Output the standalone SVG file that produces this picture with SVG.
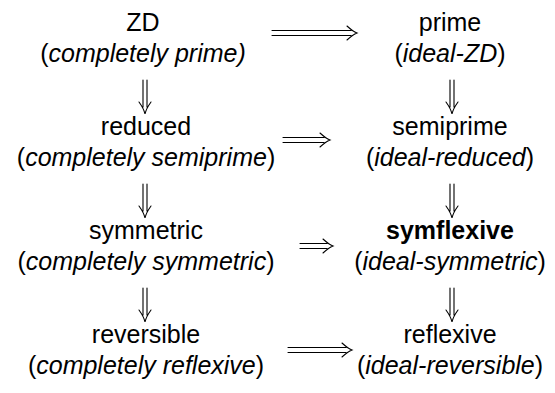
<svg xmlns="http://www.w3.org/2000/svg" width="555" height="393" viewBox="0 0 555 393">
<style>
  .t{font-family:"Liberation Sans",Arial,sans-serif;font-size:25px;fill:#000;text-anchor:middle}
  .i{font-style:italic}
  .b{font-weight:bold}
  .a{fill:none;stroke:#000;stroke-width:1.1;stroke-linecap:round}
</style>
<rect width="555" height="393" fill="#fff"/>

<!-- left column: ring properties -->
<g id="zd"><text class="t" x="143" y="31">ZD</text><text class="t" x="143" y="62">(<tspan class="i">completely prime)</tspan></text></g>
<g id="reduced"><text class="t" x="146" y="135">reduced</text><text class="t" x="146" y="166">(<tspan class="i">completely semiprime</tspan>)</text></g>
<g id="symmetric"><text class="t" x="146" y="239">symmetric</text><text class="t" x="146" y="270">(<tspan class="i">completely symmetric</tspan>)</text></g>
<g id="reversible"><text class="t" x="146" y="343">reversible</text><text class="t" x="146" y="374">(<tspan class="i">completely reflexive</tspan>)</text></g>

<!-- right column: ideal properties -->
<g id="prime"><text class="t" x="450" y="31">prime</text><text class="t" x="450" y="62">(<tspan class="i">ideal-ZD</tspan>)</text></g>
<g id="semiprime"><text class="t" x="450" y="135">semiprime</text><text class="t" x="450" y="166">(<tspan class="i">ideal-reduced</tspan>)</text></g>
<g id="symflexive"><text class="t b" x="450" y="239">symflexive</text><text class="t" x="450" y="270">(<tspan class="i">ideal-symmetric</tspan>)</text></g>
<g id="reflexive"><text class="t" x="450" y="343">reflexive</text><text class="t" x="450" y="374">(<tspan class="i">ideal-reversible</tspan>)</text></g>

<!-- implications -->
<g id="connectors" class="a">
  <!-- horizontal double arrows -->
  <path d="M272 30.5H351M272 35.5H351M347 26Q353 31.5 357 33Q353 34.5 347 40"/>
  <path d="M283 137.5H324M283 142.5H324M320 133Q326 138.5 330 140Q326 141.5 320 147"/>
  <path d="M300 243.5H327M300 248.5H327M323 239Q329 244.5 333 246Q329 247.5 323 253"/>
  <path d="M288 347.5H346M288 352.5H346M342 343Q348 348.5 352 350Q348 351.5 342 357"/>
  <!-- vertical double arrows, left -->
  <path d="M143 80V107M147 80V107M139 102Q144 109 145 114Q146 109 151 102"/>
  <path d="M143 184V211M147 184V211M139 206Q144 213 145 218Q146 213 151 206"/>
  <path d="M143 288V315M147 288V315M139 310Q144 317 145 322Q146 317 151 310"/>
  <!-- vertical double arrows, right -->
  <path d="M450 80V107M454 80V107M446 102Q451 109 452 114Q453 109 458 102"/>
  <path d="M450 184V211M454 184V211M446 206Q451 213 452 218Q453 213 458 206"/>
  <path d="M450 288V315M454 288V315M446 310Q451 317 452 322Q453 317 458 310"/>
</g>
</svg>
